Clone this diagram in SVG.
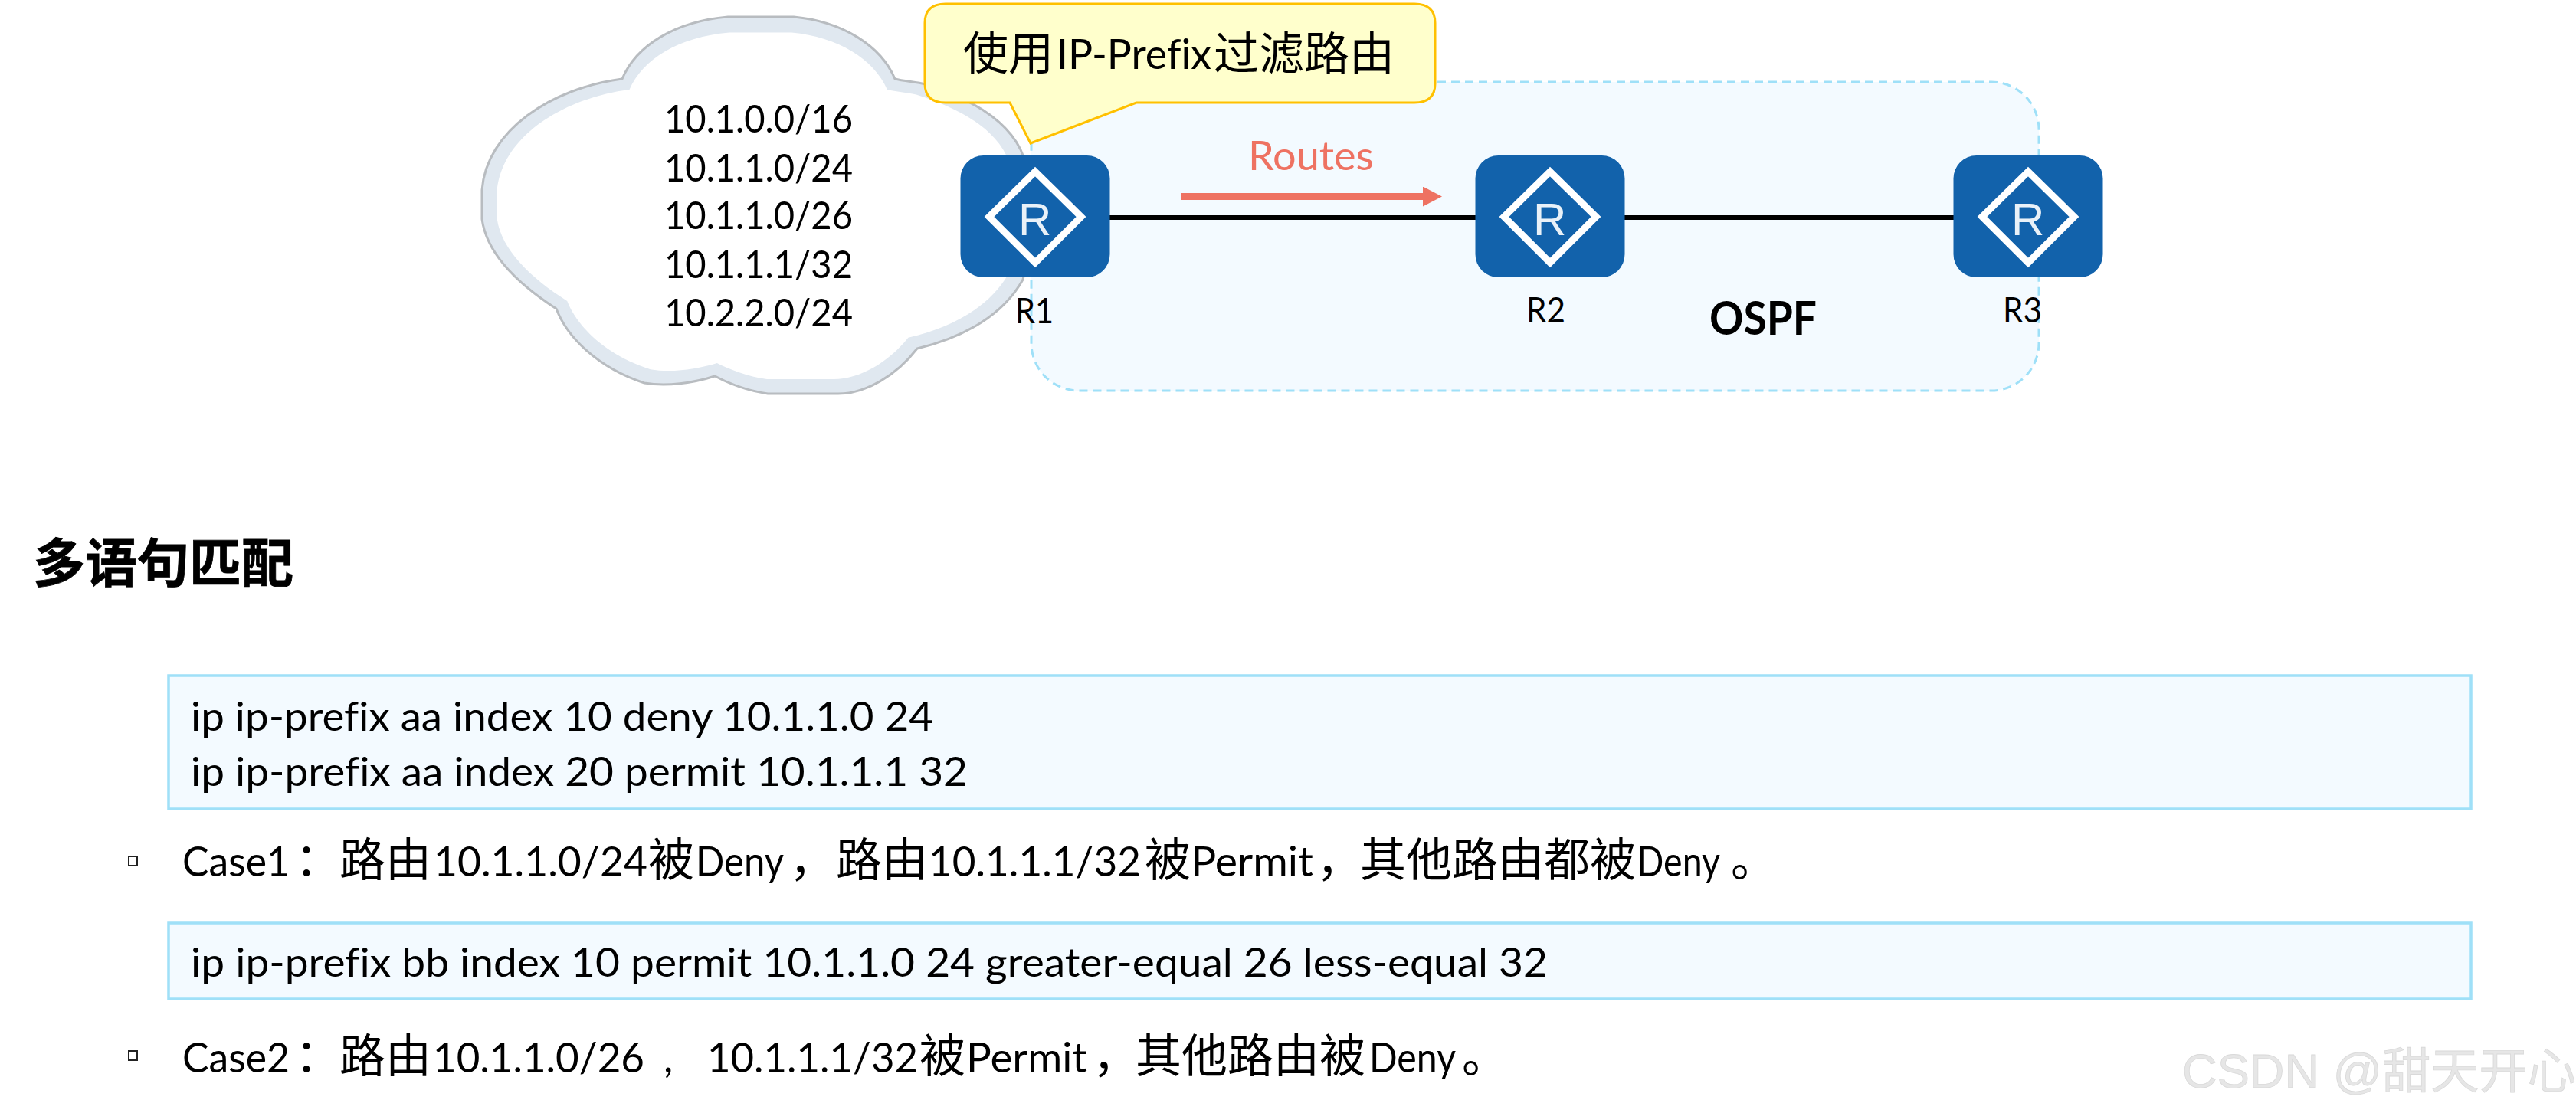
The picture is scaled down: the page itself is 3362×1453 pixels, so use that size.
<svg xmlns="http://www.w3.org/2000/svg" xmlns:xlink="http://www.w3.org/1999/xlink" width="3362" height="1453" viewBox="0 0 3362 1453">
<style>
text{font-family:Lato,"Noto Sans CJK SC",sans-serif;fill:#000;font-variant-ligatures:none}
.cj{font-family:"Noto Sans CJK SC",sans-serif;font-size:60px}
.c{font-size:50px}.l{font-size:47px}.b{font-size:54px}.cd{font-size:53px}
.box{fill:#f3faff;stroke:#9fe0f8;stroke-width:3.5}
.link{stroke:#000;stroke-width:6;fill:none}
.rl{font-family:"Liberation Sans",sans-serif;font-size:60px;fill:#e9f1f8}
.dm{fill:none;stroke:#fff;stroke-width:9}
.bu{fill:#fff;stroke:#222;stroke-width:2}
</style>
<defs>
<g id="router"><rect x="-97.500" y="-80" width="195" height="159" rx="30" fill="#1262ab"/><polygon class="dm" points="-60,0 0,-59 60,0 0,60"/></g>
<path id="cl" d="M950 22L1036 22C1100 28 1150 60 1168 103C1180 106 1195 107 1208 110C1270 130 1320 160 1336 205C1350 260 1348 320 1335 365C1310 410 1260 440 1197 455C1170 490 1130 514 1094 514L1002 514C975 510 950 500 933 491C905 500 870 505 841 500C780 480 740 440 726 403C675 370 635 330 629 286L629 248C635 170 720 115 812 103C830 60 880 28 950 22Z"/>
<marker id="ah" markerUnits="userSpaceOnUse" markerWidth="26" markerHeight="26" refX="1" refY="13" orient="auto"><polygon points="1,0 26,13 1,26" fill="#ee7262"/></marker>
</defs>
<rect width="3362" height="1453" fill="#fff"/>
<g id="ospf-area"><rect x="1346" y="107" width="1315" height="403" rx="62" fill="#f3faff" stroke="#9fe0f8" stroke-width="3" stroke-dasharray="11 7"/>
<text x="2231" y="437" font-size="62" font-weight="700" textLength="140" lengthAdjust="spacingAndGlyphs">OSPF</text></g>
<g id="cloud">
<use xlink:href="#cl" href="#cl" fill="#e0e8f0" stroke="#b8bcc0" stroke-width="3"/>
<use xlink:href="#cl" href="#cl" fill="#fff" transform="translate(985 278) scale(.945 .92) translate(-985 -278)"/>
<text class="c" x="867" y="173" textLength="246" lengthAdjust="spacingAndGlyphs">10.1.0.0/16</text>
<text class="c" x="867" y="236.500" textLength="246" lengthAdjust="spacingAndGlyphs">10.1.1.0/24</text>
<text class="c" x="867" y="299" textLength="246" lengthAdjust="spacingAndGlyphs">10.1.1.0/26</text>
<text class="c" x="867" y="363" textLength="246" lengthAdjust="spacingAndGlyphs">10.1.1.1/32</text>
<text class="c" x="867" y="426" textLength="246" lengthAdjust="spacingAndGlyphs">10.2.2.0/24</text>
</g>
<g id="connectors">
<line class="link" x1="1448" y1="284" x2="1926" y2="284"/>
<line class="link" x1="2120" y1="284" x2="2551" y2="284"/>
<line x1="1541" y1="256.500" x2="1857" y2="256.500" stroke="#ee7262" stroke-width="9" marker-end="url(#ah)"/>
<text x="1629" y="222" font-size="53" style="fill:#ee7262" textLength="164" lengthAdjust="spacingAndGlyphs">Routes</text>
</g>
<g id="R1"><use xlink:href="#router" href="#router" x="1351" y="283"/><text class="rl" x="1329" y="307">R</text><text class="l" x="1325" y="422" textLength="50" lengthAdjust="spacingAndGlyphs">R1</text></g>
<g id="R2"><use xlink:href="#router" href="#router" x="2023" y="283"/><text class="rl" x="2001" y="307">R</text><text class="l" x="1992" y="421" textLength="51" lengthAdjust="spacingAndGlyphs">R2</text></g>
<g id="R3"><use xlink:href="#router" href="#router" x="2647" y="283"/><text class="rl" x="2625" y="307">R</text><text class="l" x="2614" y="421" textLength="51" lengthAdjust="spacingAndGlyphs">R3</text></g>
<g id="callout">
<path d="M1234 5H1846Q1873 5 1873 30V109Q1873 134 1846 134H1483L1345 187L1318 134H1234Q1207 134 1207 109V30Q1207 5 1234 5Z" fill="#ffffcc" stroke="#ffc000" stroke-width="3"/>
<text y="89" font-size="54"><tspan class="cj" x="1257" y="91" style="font-size:59px">使用</tspan><tspan x="1379" y="90" textLength="202" lengthAdjust="spacingAndGlyphs">IP-Prefix</tspan><tspan class="cj" x="1584" y="91" style="font-size:59px">过滤路由</tspan></text>
</g>
<text class="cj" x="43" y="760" style="font-size:68px;font-weight:700;stroke:#000;stroke-width:.8">多语句匹配</text>
<g id="code1"><rect class="box" x="220" y="882" width="3005" height="174"/>
<text class="cd" x="249" y="954" textLength="969" lengthAdjust="spacingAndGlyphs">ip ip-prefix aa index 10 deny 10.1.1.0 24</text>
<text class="cd" x="249" y="1026" textLength="1014" lengthAdjust="spacingAndGlyphs">ip ip-prefix aa index 20 permit 10.1.1.1 32</text></g>
<rect class="bu" x="168" y="1118" width="11" height="12"/>
<text class="b" y="1144"><tspan x="238" textLength="140" lengthAdjust="spacingAndGlyphs">Case1</tspan><tspan class="cj" x="385">：</tspan><tspan class="cj" x="443">路由</tspan><tspan x="566" textLength="279" lengthAdjust="spacingAndGlyphs">10.1.1.0/24</tspan><tspan class="cj" x="846">被</tspan><tspan x="908" textLength="115" lengthAdjust="spacingAndGlyphs">Deny</tspan><tspan class="cj" x="1030">，</tspan><tspan class="cj" x="1091">路由</tspan><tspan x="1212" textLength="277" lengthAdjust="spacingAndGlyphs">10.1.1.1/32</tspan><tspan class="cj" x="1494">被</tspan><tspan x="1554" textLength="160" lengthAdjust="spacingAndGlyphs">Permit</tspan><tspan class="cj" x="1718">，</tspan><tspan class="cj" x="1775">其他路由都被</tspan><tspan x="2136" textLength="109" lengthAdjust="spacingAndGlyphs">Deny</tspan><tspan class="cj" x="2259">。</tspan></text>
<g id="code2"><rect class="box" x="220" y="1205" width="3005" height="99"/>
<text class="cd" x="249" y="1275" textLength="1771" lengthAdjust="spacingAndGlyphs">ip ip-prefix bb index 10 permit 10.1.1.0 24 greater-equal 26 less-equal 32</text></g>
<rect class="bu" x="168" y="1372" width="11" height="12"/>
<text class="b" y="1400"><tspan x="238" textLength="140" lengthAdjust="spacingAndGlyphs">Case2</tspan><tspan class="cj" x="385">：</tspan><tspan class="cj" x="443">路由</tspan><tspan x="565" textLength="276" lengthAdjust="spacingAndGlyphs">10.1.1.0/26</tspan><tspan x="866">,</tspan><tspan x="923" textLength="275" lengthAdjust="spacingAndGlyphs">10.1.1.1/32</tspan><tspan class="cj" x="1200">被</tspan><tspan x="1261" textLength="158" lengthAdjust="spacingAndGlyphs">Permit</tspan><tspan class="cj" x="1426">，</tspan><tspan class="cj" x="1482">其他路由被</tspan><tspan x="1787" textLength="113" lengthAdjust="spacingAndGlyphs">Deny</tspan><tspan class="cj" x="1908">。</tspan></text>
<text x="2848" y="1420" font-size="63" textLength="514" lengthAdjust="spacingAndGlyphs" style="font-family:'Liberation Sans','Noto Sans CJK SC',sans-serif;fill:#e6e6e6;stroke:#d9d9d9;stroke-width:.8">CSDN @甜天开心</text>
</svg>
